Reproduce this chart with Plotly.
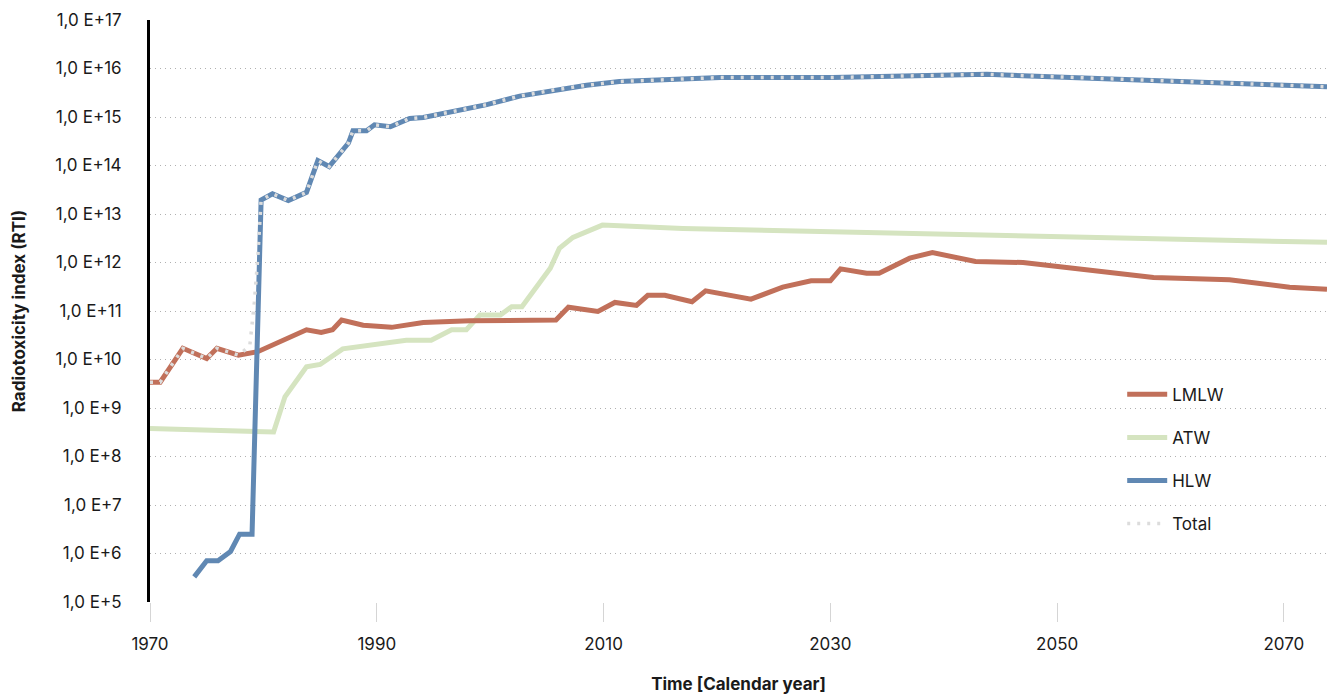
import plotly.graph_objects as go

# Radiotoxicity index per waste category, by calendar year
lmlw_years = [1970.0, 1970.9, 1972.9, 1975.0, 1975.9, 1977.8, 1979.5, 1983.8, 1985.1,
              1986.1, 1986.9, 1988.8, 1991.3, 1994.1, 1998.2, 2005.8, 2006.9, 2009.5,
              2011.0, 2012.9, 2013.9, 2015.4, 2017.8, 2019.0, 2023.0, 2025.8, 2028.3,
              2030.0, 2030.9, 2033.2, 2034.3, 2037.0, 2039.0, 2042.8, 2047.0, 2051.4,
              2058.5, 2065.2, 2070.5, 2073.8]
lmlw_values = [3.4e9, 3.4e9, 1.7e10, 1.05e10, 1.7e10, 1.23e10, 1.45e10, 4.1e10, 3.6e10,
               4.1e10, 6.5e10, 5.1e10, 4.6e10, 5.8e10, 6.3e10, 6.5e10, 1.2e11, 9.8e10,
               1.5e11, 1.3e11, 2.1e11, 2.1e11, 1.55e11, 2.6e11, 1.75e11, 3.1e11, 4.2e11,
               4.2e11, 7.4e11, 6.0e11, 6.0e11, 1.23e12, 1.6e12, 1.05e12, 1.0e12, 7.6e11,
               4.9e11, 4.4e11, 3.1e11, 2.8e11]

atw_years = [1970.0, 1980.9, 1981.9, 1983.8, 1985.0, 1987.0, 1992.6, 1994.8, 1996.6,
             1997.9, 1999.1, 2000.9, 2001.9, 2002.8, 2005.3, 2006.1, 2007.3, 2009.9,
             2017.0, 2030.0, 2045.0, 2073.8]
atw_values = [3.8e8, 3.2e8, 1.7e9, 7.1e9, 7.9e9, 1.66e10, 2.5e10, 2.5e10, 4.1e10,
              4.1e10, 8.3e10, 8.3e10, 1.23e11, 1.23e11, 7.6e11, 1.95e12, 3.3e12, 5.9e12,
              5.0e12, 4.3e12, 3.7e12, 2.6e12]

hlw_years = [1973.9, 1975.0, 1976.0, 1977.1, 1977.9, 1979.0, 1979.8, 1980.8, 1982.2,
             1983.8, 1984.8, 1985.8, 1987.5, 1987.9, 1989.1, 1989.8, 1991.2, 1992.9,
             1994.1, 1995.6, 1999.7, 2002.6, 2005.6, 2008.5, 2011.4, 2020.3, 2030.2,
             2043.8, 2059.6, 2073.8]
hlw_values = [3.3e5, 7.1e5, 7.1e5, 1.1e6, 2.5e6, 2.5e6, 1.95e13, 2.6e13, 1.9e13,
              2.8e13, 1.26e14, 9.5e13, 2.9e14, 5.2e14, 5.2e14, 6.9e14, 6.3e14, 9.3e14,
              9.8e14, 1.15e15, 1.8e15, 2.7e15, 3.6e15, 4.5e15, 5.4e15, 6.5e15, 6.5e15,
              7.6e15, 5.5e15, 4.2e15]

# Total: follows LMLW until HLW takes over around 1980
total_ramp_years = [1978.8, 1979.2, 1979.5]
total_ramp_values = [1.9e10, 1.5e11, 1.2e12]
total_years = lmlw_years[:6] + total_ramp_years + hlw_years[6:]
total_values = lmlw_values[:6] + total_ramp_values + hlw_values[6:]

y_exponents = list(range(5, 18))
y_tickvals = [10.0 ** e for e in y_exponents]
y_ticktext = [f"1,0 E+{e}" for e in y_exponents]
x_tickvals = [1970, 1990, 2010, 2030, 2050, 2070]

FONT = "Inter, Lato, sans-serif"
TEXT = "#1a1a1a"
C_LMLW = "#c1705a"
C_ATW = "#d5e4c0"
C_HLW = "#6088b3"
C_TOTAL = "#dcdcdc"

fig = go.Figure()
fig.add_trace(go.Scatter(x=atw_years, y=atw_values, name="ATW", mode="lines",
                         line=dict(color=C_ATW, width=5), legendrank=2, legendgroup="b"))
fig.add_trace(go.Scatter(x=lmlw_years, y=lmlw_values, name="LMLW", mode="lines",
                         line=dict(color=C_LMLW, width=5), legendrank=1, legendgroup="a"))
fig.add_trace(go.Scatter(x=hlw_years, y=hlw_values, name="HLW", mode="lines",
                         line=dict(color=C_HLW, width=5), legendrank=3, legendgroup="c"))
fig.add_trace(go.Scatter(x=total_years, y=total_values, name="Total", mode="lines",
                         line=dict(color=C_TOTAL, width=3.5, dash="3px,7px"),
                         legendrank=4, legendgroup="d"))

fig.update_layout(
    width=1327, height=697,
    margin=dict(l=150, r=0, t=20, b=95),
    paper_bgcolor="white", plot_bgcolor="white",
    font=dict(family=FONT, size=17, color=TEXT),
    showlegend=True,
    legend=dict(x=0.826, y=0.387, xanchor="left", yanchor="top",
                font=dict(family=FONT, size=17, color=TEXT),
                tracegroupgap=18, bgcolor="rgba(0,0,0,0)", itemwidth=40),
    xaxis=dict(range=[1970, 2073.8], tickvals=x_tickvals, showgrid=False,
               zeroline=False, showline=False, ticks="outside", ticklen=19,
               tickcolor="#d5d5d5", tickwidth=1, ticklabelstandoff=8,
               tickfont=dict(family=FONT, size=17, color=TEXT),
               title=dict(text="<b>Time [Calendar year]</b>", standoff=24,
                          font=dict(family=FONT, size=17, color=TEXT))),
    yaxis=dict(type="log", range=[5, 17], tickvals=y_tickvals, ticktext=y_ticktext,
               showgrid=True, gridcolor="#b0b0b0", griddash="1px,4px", gridwidth=1,
               zeroline=False, showline=True, linecolor="#000000", linewidth=3,
               ticks="outside", ticklen=22, tickcolor="rgba(0,0,0,0)",
               tickfont=dict(family=FONT, size=17, color=TEXT),
               title=dict(text="<b>Radiotoxicity index (RTI)</b>", standoff=26,
                          font=dict(family=FONT, size=17, color=TEXT))),
)

fig.write_html("out.html")
